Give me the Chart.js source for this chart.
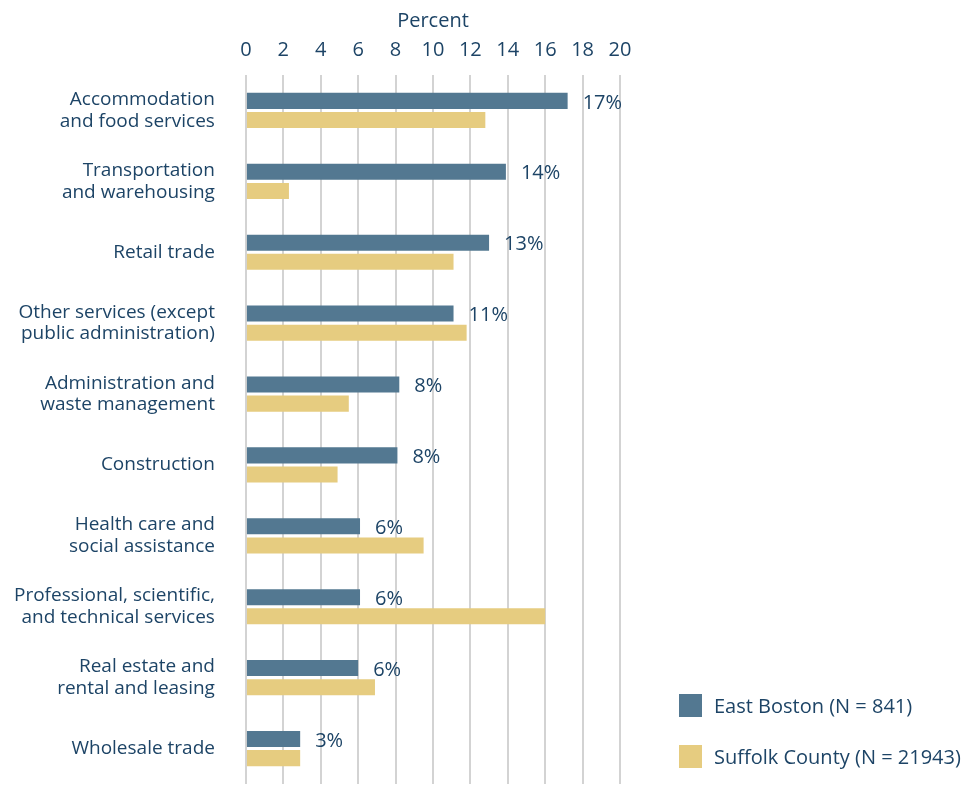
<!DOCTYPE html>
<html>
<head>
<meta charset="utf-8">
<script src="https://cdn.jsdelivr.net/npm/chart.js@4/dist/chart.umd.min.js"></script>
<style>
  body { margin: 0; background: #fff; font-family: "Open Sans", sans-serif; }
  #wrap { position: relative; width: 980px; height: 789px; }
  #legend { position: absolute; left: 679px; top: 693px; color: #1d4466; font-size: 20px; }
  .item { display: flex; align-items: center; height: 24px; margin-bottom: 27px; }
  .box { width: 23px; height: 23px; margin-right: 12px; }
</style>
</head>
<body>
<div id="wrap">
  <canvas id="industry" width="980" height="789"></canvas>
  <div id="legend"></div>
</div>
<script>
const categories = [
  ["Accommodation", "and food services"],
  ["Transportation", "and warehousing"],
  "Retail trade",
  ["Other services (except", "public administration)"],
  ["Administration and", "waste management"],
  "Construction",
  ["Health care and", "social assistance"],
  ["Professional, scientific,", "and technical services"],
  ["Real estate and", "rental and leasing"],
  "Wholesale trade"
];
const eastBoston = [17.2, 13.9, 13.0, 11.1, 8.2, 8.1, 6.1, 6.1, 6.0, 2.9];
const suffolk = [12.8, 2.3, 11.1, 11.8, 5.5, 4.9, 9.5, 16.0, 6.9, 2.9];
const eastBostonLabels = ["17%", "14%", "13%", "11%", "8%", "8%", "6%", "6%", "6%", "3%"];
const seriesNames = ["East Boston (N = 841)", "Suffolk County (N = 21943)"];
const colors = ["#537891", "#e6cc80"];

const navy = "#1d4466";

// percent labels at the end of the East Boston bars
const barLabels = {
  id: "barLabels",
  afterDatasetsDraw(chart) {
    const ctx = chart.ctx;
    const meta = chart.getDatasetMeta(0);
    ctx.save();
    ctx.font = "20px 'Open Sans'";
    ctx.fillStyle = navy;
    ctx.textBaseline = "middle";
    meta.data.forEach((bar, i) => {
      ctx.fillText(eastBostonLabels[i], bar.x + 15, bar.y + 2);
    });
    ctx.restore();
  }
};

const chart = new Chart(document.getElementById("industry"), {
  type: "bar",
  plugins: [barLabels],
  data: {
    labels: categories,
    datasets: [
      { label: seriesNames[0], data: eastBoston, backgroundColor: colors[0] },
      { label: seriesNames[1], data: suffolk, backgroundColor: colors[1] }
    ]
  },
  options: {
    indexAxis: "y",
    responsive: false,
    animation: false,
    categoryPercentage: 0.54,
    barPercentage: 0.84,
    layout: { padding: { left: 10, right: 360, top: 2, bottom: 5 } },
    plugins: { legend: { display: false }, tooltip: { enabled: false } },
    scales: {
      x: {
        position: "top",
        min: 0,
        max: 20,
        ticks: { stepSize: 2, color: navy, font: { family: "Open Sans", size: 20 }, padding: 13 },
        grid: { color: "#d3d3d3", lineWidth: 2, drawTicks: false },
        border: { display: false },
        title: { display: true, text: "Percent", color: navy, font: { family: "Open Sans", size: 20 }, padding: { top: 7, bottom: -8 } }
      },
      y: {
        ticks: { color: navy, font: { family: "Open Sans", size: 19, lineHeight: 1.15 }, padding: 4 },
        // invisible tick marks give the gap between labels and bars
        grid: { display: true, drawOnChartArea: false, drawTicks: true, tickLength: 27, color: "rgba(0,0,0,0)" },
        border: { display: false },
        afterFit(scale) {
          scale.paddingTop = 0;
          scale.paddingBottom = 0;
        }
      }
    }
  }
});

const legend = document.getElementById("legend");
seriesNames.forEach((name, i) => {
  const item = document.createElement("div");
  item.className = "item";
  item.innerHTML = '<span class="box" style="background:' + colors[i] + '"></span>' + name;
  legend.appendChild(item);
});
</script>
</body>
</html>
